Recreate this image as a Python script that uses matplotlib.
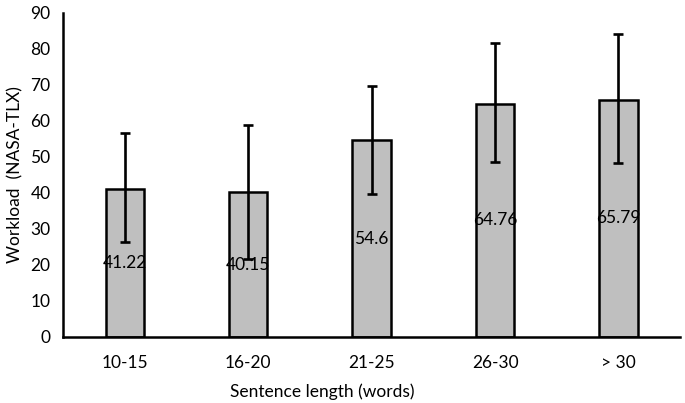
import matplotlib
matplotlib.use("Agg")
import matplotlib.pyplot as plt
import numpy as np

# data
categories = ["10-15", "16-20", "21-25", "26-30", "> 30"]
means = [41.22, 40.15, 54.6, 64.76, 65.79]
err_low = [26.3, 21.6, 39.7, 48.5, 48.2]
err_high = [56.7, 58.9, 69.8, 81.6, 84.0]

plt.rcParams["font.family"] = ["Lato", "DejaVu Sans"]

fig = plt.figure(figsize=(6.85, 4.03), dpi=100)
ax = fig.add_axes([0.092, 0.164, 0.901, 0.804])

x = np.arange(len(categories))
means_arr = np.array(means)
yerr = [means_arr - np.array(err_low), np.array(err_high) - means_arr]

ax.bar(x, means, width=0.31, color="#bfbfbf", edgecolor="black", linewidth=1.8, zorder=2)
ax.errorbar(x, means, yerr=yerr, fmt="none", ecolor="black", elinewidth=1.9,
            capsize=3.6, capthick=1.9, zorder=3)

# value labels in the middle of each bar
for xi, m in zip(x, means):
    ax.text(xi, m / 2, f"{m:g}", ha="center", va="center", fontsize=12.5, zorder=4)

ax.set_xlim(-0.5, len(categories) - 0.5)
ax.set_ylim(0, 90)
ax.set_yticks(range(0, 91, 10))
ax.set_xticks(x)
ax.set_xticklabels(categories)
ax.tick_params(length=0, labelsize=12.5, pad=9)
ax.tick_params(axis="x", pad=13)

for side in ["top", "right"]:
    ax.spines[side].set_visible(False)
for side in ["left", "bottom"]:
    ax.spines[side].set_linewidth(1.8)

ax.set_xlabel("Sentence length (words)", fontsize=12.5, labelpad=9)
ax.xaxis.label.set_x(0.42)
ax.set_ylabel("Workload  (NASA-TLX)", fontsize=12.5, labelpad=5)

fig.savefig("out.png", dpi=100)
